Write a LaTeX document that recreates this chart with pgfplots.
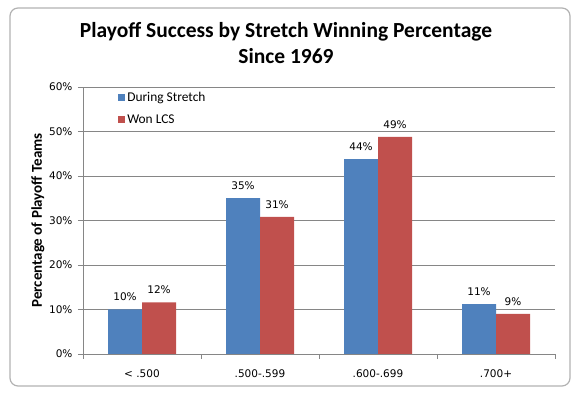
\documentclass[border=0pt]{standalone}
\usepackage{pgfplots}
\pgfplotsset{compat=1.18}
\usepackage{fontspec}
\setmainfont{Carlito}
\newfontfamily\tickfont{DejaVu Sans}
\definecolor{barblue}{HTML}{4F81BD}
\definecolor{barred}{HTML}{C0504D}
\definecolor{gridgray}{HTML}{868686}
\begin{document}
\begin{tikzpicture}[x=1pt,y=1pt]
\path[use as bounding box] (0,0) rectangle (578,395);
\draw[gray!60, line width=1.2pt, rounded corners=8pt] (10,9) rectangle (570,387);
\node[anchor=base, font=\fontsize{21.5}{24}\selectfont\bfseries] at (286,357) {Playoff Success by Stretch Winning Percentage};
\node[anchor=base, font=\fontsize{21.5}{24}\selectfont\bfseries] at (286,331) {Since 1969};
\begin{axis}[
  at={(83pt,41pt)}, anchor=south west,
  scale only axis, width=472pt, height=267pt,
  ybar=0pt, bar width=34pt,
  xmin=-0.5, xmax=3.5, ymin=0, ymax=60,
  xtick={0,1,2,3},
  xticklabels={{< .500},{.500-.599},{.600-.699},{.700+}},
  minor xtick={-0.5,0.5,1.5,2.5,3.5},
  ytick={0,10,20,30,40,50,60},
  yticklabel={\pgfmathprintnumber{\tick}\%},
  /pgf/number format/assume math mode=true,
  ymajorgrids, grid style={gridgray, line width=0.8pt},
  axis lines*=left, axis line style={gridgray, line width=0.8pt, -},
  tick align=outside,
  major x tick style={draw=none},
  minor tick length=5pt,
  major tick length=5pt,
  tick style={gridgray, line width=0.8pt},
  tick label style={font=\tickfont\fontsize{10.5}{12}\selectfont},
  xticklabel style={yshift=-7pt},
  yticklabel style={xshift=-2pt},
  ylabel={\fontsize{15}{17}\selectfont\bfseries Percentage of Playoff Teams},
  every axis y label/.style={at={(axis description cs:-0.0955,0.50)}, rotate=90, anchor=center},
  legend style={at={(axis description cs:0.068,0.995)}, anchor=north west, draw=none, fill=none, font=\fontsize{13.4}{15}\selectfont, row sep=7pt},
  legend cell align=left,
  legend image code/.code={\fill[#1] (0pt,-3.5pt) rectangle (7pt,3.5pt);},
  nodes near coords={\pgfmathprintnumber[fixed,precision=0]{\pgfplotspointmeta}\%},
  nodes near coords style={font=\tickfont\fontsize{10.5}{12}\selectfont, text=black, yshift=5pt},
]
\addplot[fill=barblue, draw=none] coordinates {(0,10) (1,35) (2,43.8) (3,11.2)};
\addplot[fill=barred, draw=none] coordinates {(0,11.6) (1,30.8) (2,48.8) (3,9)};
\legend{During Stretch, Won LCS}
\end{axis}
\end{tikzpicture}
\end{document}
